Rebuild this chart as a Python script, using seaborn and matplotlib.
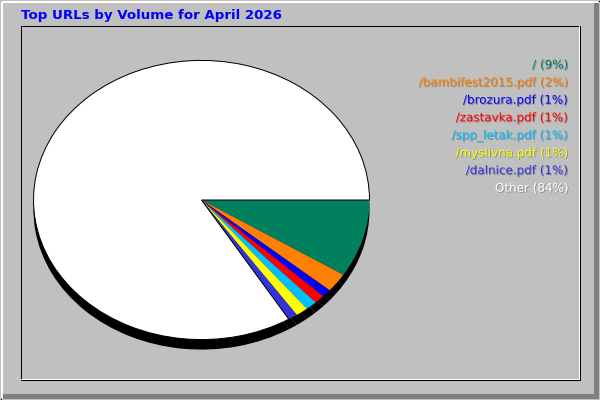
import matplotlib
matplotlib.use("Agg")
import matplotlib.pyplot as plt
import matplotlib.patheffects as pe
from matplotlib.patches import Rectangle
import seaborn as sns

# Top URLs by volume, April 2026 (percent of total volume)
urls = ["/", "/bambifest2015.pdf", "/brozura.pdf", "/zastavka.pdf",
        "/spp_letak.pdf", "/myslivna.pdf", "/dalnice.pdf", "Other"]
volume_pct = [9.0, 2.2, 0.9, 1.0, 1.1, 1.2, 0.9, 83.7]
slice_colors = ["#00805c", "#ff8000", "#0000ff", "#ff0000",
                "#00c0ff", "#ffff00", "#3333dd", "#ffffff"]
label_colors = slice_colors[:-1] + ["#ffffff"]
title = "Top URLs by Volume for April 2026"

sns.set_theme(style="white")
plt.rcParams["font.family"] = ["DejaVu Sans"]

W, H = 600, 400
fig = plt.figure(figsize=(6, 4), dpi=100, facecolor="#c0c0c0")


def px_axes(x0, y0, x1, y1):
    """axes placed by pixel box (top-left origin)"""
    return fig.add_axes([x0 / W, 1 - y1 / H, (x1 - x0) / W, (y1 - y0) / H])


# frame / panel decoration
bg = px_axes(0, 0, W, H)
bg.set_xlim(0, W)
bg.set_ylim(H, 0)
bg.axis("off")
px = 0.72
bg.add_patch(Rectangle((594, 3), 5, 396, color="#808080", lw=0))
bg.add_patch(Rectangle((3, 394), 596, 5, color="#808080", lw=0))
bg.plot([1.5, 1.5, 598], [398, 1.5, 1.5], color="white", lw=2 * px)
bg.add_patch(Rectangle((0.5, 0.5), 599, 399, fill=False, ec="black", lw=px))
bg.plot([21, 578.5, 578.5], [378.5, 378.5, 26], color="white", lw=px)
bg.add_patch(Rectangle((20.5, 25.5), 559, 354, fill=False, ec="black", lw=px))

bg.text(21, 15, title, color="#0000ff", fontsize=9.6, fontweight="bold",
        ha="left", va="center")

# legend labels, right aligned
total = sum(volume_pct)
shadow = [pe.SimplePatchShadow(offset=(0.7, -0.7), shadow_rgbFace="#505050", alpha=0.45),
          pe.Normal()]
for i, (name, v, c) in enumerate(zip(urls, volume_pct, label_colors)):
    bg.text(568, 65 + i * 17.6, f"{name} ({round(v / total * 100)}%)",
            color=c, fontsize=8.6, ha="right", va="center", path_effects=shadow)

# pie shadow, then the pie itself (elliptical)
sh = px_axes(33, 70, 370, 350)
sh.pie(volume_pct, colors=["black"] * len(volume_pct), startangle=0,
       counterclock=False, radius=1, wedgeprops=dict(linewidth=0))
main = px_axes(33, 60, 370, 340)
wedges, _ = main.pie(volume_pct, colors=slice_colors, startangle=0,
                     counterclock=False, radius=1, wedgeprops=dict(linewidth=0))
wedges[-1].set_edgecolor("black")
wedges[-1].set_linewidth(px)
for a in (sh, main):
    a.set_aspect("auto")
    a.set_xlim(-1.003, 1.003)
    a.set_ylim(-1.003, 1.003)
    a.axis("off")
    a.patch.set_alpha(0)

fig.savefig("out.png", dpi=100, facecolor=fig.get_facecolor())
